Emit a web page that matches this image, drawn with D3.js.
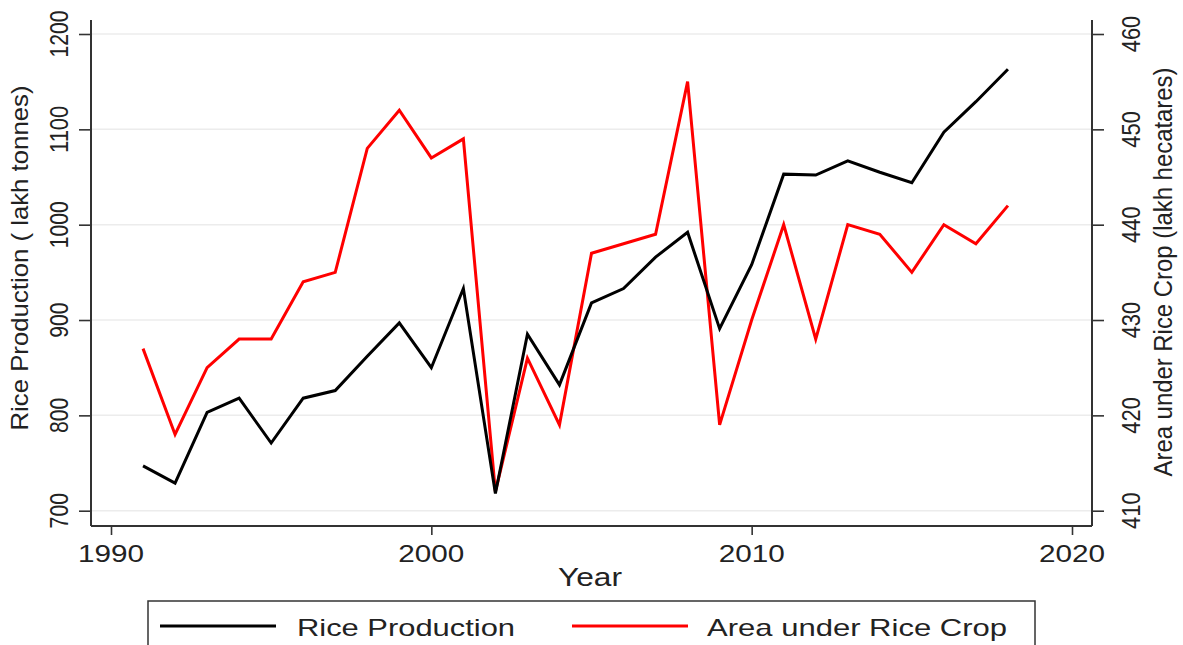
<!DOCTYPE html>
<html>
<head>
<meta charset="utf-8">
<script src="https://cdn.jsdelivr.net/npm/d3@7"></script>
<style>
  html, body { margin: 0; padding: 0; background: #fff; }
  svg { display: block; }
  text { font-family: "Liberation Sans", Arial, sans-serif; fill: #222; }
</style>
</head>
<body>
<svg id="chart" width="1183" height="645"></svg>
<script>
// Rice production and area under rice crop, 1991-2018
const years = [1991, 1992, 1993, 1994, 1995, 1996, 1997, 1998, 1999, 2000,
               2001, 2002, 2003, 2004, 2005, 2006, 2007, 2008, 2009, 2010,
               2011, 2012, 2013, 2014, 2015, 2016, 2017, 2018];
const riceProduction = [747, 729, 803, 818, 771, 818, 826, 862, 897, 850,
                        933, 718, 885, 832, 918, 933, 966, 992, 891, 958,
                        1053, 1052, 1067, 1055, 1044, 1097, 1129, 1163];
const riceArea = [427, 418, 425, 428, 428, 434, 435, 448, 452, 447,
                  449, 412, 426, 419, 437, 438, 439, 455, 419, 430,
                  440, 428, 440, 439, 435, 440, 438, 442];
const xTicks = [1990, 2000, 2010, 2020];
const leftTicks = [700, 800, 900, 1000, 1100, 1200];
const rightTicks = [410, 420, 430, 440, 450, 460];

const svg = d3.select("#chart");
const plot = { left: 91, right: 1092, top: 20, bottom: 526 };

const x = d3.scaleLinear().domain([1990, 2020]).range([111, 1072]);
const yL = d3.scaleLinear().domain([700, 1200]).range([510.7, 34]);
const yR = d3.scaleLinear().domain([410, 460]).range([510.7, 34]);

// horizontal gridlines
svg.append("g").selectAll("line").data(leftTicks).join("line")
  .attr("x1", plot.left).attr("x2", plot.right)
  .attr("y1", d => yL(d)).attr("y2", d => yL(d))
  .attr("stroke", "#ececec").attr("stroke-width", 1.5);

// axes
const axisColor = "#333";
function styleAxis(g) {
  g.select(".domain").remove();
  g.selectAll(".tick line").attr("stroke", axisColor).attr("stroke-width", 1.6);
  g.selectAll(".tick text").remove();
}
svg.append("g").attr("transform", `translate(${plot.left},0)`)
  .call(d3.axisLeft(yL).tickValues(leftTicks).tickSize(12)).call(styleAxis);
svg.append("g").attr("transform", `translate(${plot.right},0)`)
  .call(d3.axisRight(yR).tickValues(rightTicks).tickSize(12)).call(styleAxis);
svg.append("g").attr("transform", `translate(0,${plot.bottom})`)
  .call(d3.axisBottom(x).tickValues(xTicks).tickSize(9)).call(styleAxis);

// axis lines
const frame = svg.append("g").attr("stroke", axisColor).attr("stroke-width", 2);
frame.append("line").attr("x1", plot.left).attr("x2", plot.left).attr("y1", plot.top).attr("y2", plot.bottom);
frame.append("line").attr("x1", plot.right).attr("x2", plot.right).attr("y1", plot.top).attr("y2", plot.bottom);
frame.append("line").attr("x1", plot.left).attr("x2", plot.right).attr("y1", plot.bottom).attr("y2", plot.bottom);

// tick labels
svg.append("g").selectAll("text").data(leftTicks).join("text")
  .attr("x", 68).attr("y", d => yL(d))
  .attr("transform", d => `rotate(-90,68,${yL(d)})`)
  .attr("text-anchor", "middle").attr("font-size", 25)
  .attr("textLength", d => String(d).length * 11.8).attr("lengthAdjust", "spacingAndGlyphs")
  .text(d => d);
svg.append("g").selectAll("text").data(rightTicks).join("text")
  .attr("x", 1140).attr("y", d => yR(d))
  .attr("transform", d => `rotate(-90,1140,${yR(d)})`)
  .attr("text-anchor", "middle").attr("font-size", 25)
  .attr("textLength", d => String(d).length * 12.2).attr("lengthAdjust", "spacingAndGlyphs")
  .text(d => d);
svg.append("g").selectAll("text").data(xTicks).join("text")
  .attr("x", d => x(d)).attr("y", 562)
  .attr("text-anchor", "middle").attr("font-size", 24)
  .attr("textLength", 66).attr("lengthAdjust", "spacingAndGlyphs")
  .text(d => d);

// axis titles
svg.append("text").attr("x", 28).attr("y", 258)
  .attr("transform", "rotate(-90,28,258)")
  .attr("text-anchor", "middle").attr("font-size", 24)
  .attr("textLength", 345).attr("lengthAdjust", "spacingAndGlyphs")
  .text("Rice Production ( lakh tonnes)");
svg.append("text").attr("x", 1172).attr("y", 272)
  .attr("transform", "rotate(-90,1172,272)")
  .attr("text-anchor", "middle").attr("font-size", 25)
  .attr("textLength", 409).attr("lengthAdjust", "spacingAndGlyphs")
  .text("Area under Rice Crop (lakh hecatares)");
svg.append("text").attr("x", 590).attr("y", 586)
  .attr("text-anchor", "middle").attr("font-size", 26)
  .attr("textLength", 64).attr("lengthAdjust", "spacingAndGlyphs")
  .text("Year");

// series lines
const lineProd = d3.line().x((d, i) => x(years[i])).y(d => yL(d));
const lineArea = d3.line().x((d, i) => x(years[i])).y(d => yR(d));
svg.append("path").datum(riceArea).attr("d", lineArea)
  .attr("fill", "none").attr("stroke", "#ff0000").attr("stroke-width", 3)
  .attr("stroke-linejoin", "miter");
svg.append("path").datum(riceProduction).attr("d", lineProd)
  .attr("fill", "none").attr("stroke", "#000").attr("stroke-width", 3)
  .attr("stroke-linejoin", "miter");

// legend
const legend = svg.append("g");
legend.append("rect").attr("x", 148).attr("y", 601).attr("width", 887).attr("height", 60)
  .attr("fill", "#fff").attr("stroke", axisColor).attr("stroke-width", 1.5);
const legendItems = [
  { label: "Rice Production", color: "#000", x1: 160, x2: 276, tx: 297, tl: 218 },
  { label: "Area under Rice Crop", color: "#ff0000", x1: 572, x2: 688, tx: 707, tl: 300 }
];
legendItems.forEach(it => {
  legend.append("line").attr("x1", it.x1).attr("x2", it.x2).attr("y1", 626).attr("y2", 626)
    .attr("stroke", it.color).attr("stroke-width", 3);
  legend.append("text").attr("x", it.tx).attr("y", 636).attr("font-size", 24)
    .attr("textLength", it.tl).attr("lengthAdjust", "spacingAndGlyphs")
    .text(it.label);
});
</script>
</body>
</html>
